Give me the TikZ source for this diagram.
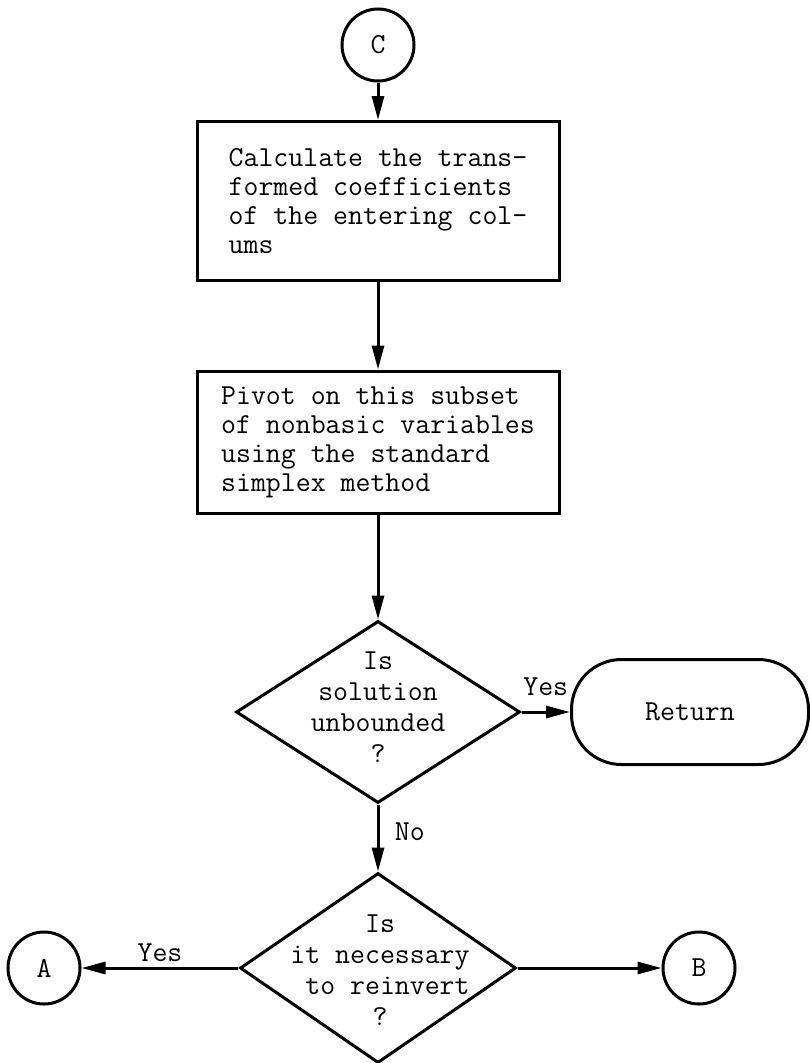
\documentclass[tikz,border=0pt]{standalone}
\usepackage{fontspec}
\usepackage{tikz}
\usetikzlibrary{arrows.meta,shapes.geometric}

\begin{document}
\begin{tikzpicture}[x=1pt,y=-1pt,line width=3pt,
  >={Triangle[length=24pt,width=12pt]},
  every node/.style={font=\ttfamily\fontsize{29}{29}\selectfont},
  connector/.style={draw,circle,minimum size=72pt,inner sep=0pt},
  process/.style={draw,rectangle,minimum width=362pt,align=left,inner sep=0pt},
  decision/.style={draw,diamond,inner sep=0pt},
  question/.style={align=center,font=\ttfamily\fontsize{29}{31}\selectfont},
  terminal/.style={draw,rectangle,rounded corners=50pt,minimum width=237pt,minimum height=105pt},
  lab/.style={font=\ttfamily\fontsize{29}{31}\selectfont}]

\useasboundingbox (0,0) rectangle (809,1063);

% Entry point
\node[connector] (c) at (378,45) {C};

% Boxes
\node[process,minimum height=159pt] (calc) at (378,201) {Calculate the trans-\\formed coefficients\\of the entering col-\\ums};
\node[process,minimum height=142pt] (pivot) at (378,442) {Pivot on this subset\\of nonbasic variables\\using the standard\\simplex method};

% Unbounded test
\node[decision,minimum width=284pt,minimum height=182pt] (unb) at (378,712) {};
\node[question] (unbq) at (378,707) {Is\\solution\\unbounded\\?};
\node[terminal] (ret) at (690,712) {Return};

% Reinversion test
\node[decision,minimum width=276pt,minimum height=190pt] (reinv) at (378,968) {};
\node[question] (reinvq) at (380,970) {Is\\it necessary\\\ to reinvert\\?};
\node[connector] (a) at (44,968) {A};
\node[connector] (b) at (699,968) {B};

% Flow
\draw[->] (c) -- (calc);
\draw[->] (calc) -- (pivot);
\draw[->] (pivot) -- (unb);
\draw[->] (unb) -- node[lab,above=12pt] (yes1) {Yes} (ret);
\draw[->] (unb) -- node[lab,right=12pt,pos=0.4] (no1) {No} (reinv);
\draw[->] (reinv) -- node[lab,above=2pt] (yes2) {Yes} (a);
\draw[->] (reinv) -- (b);

\end{tikzpicture}
\end{document}
